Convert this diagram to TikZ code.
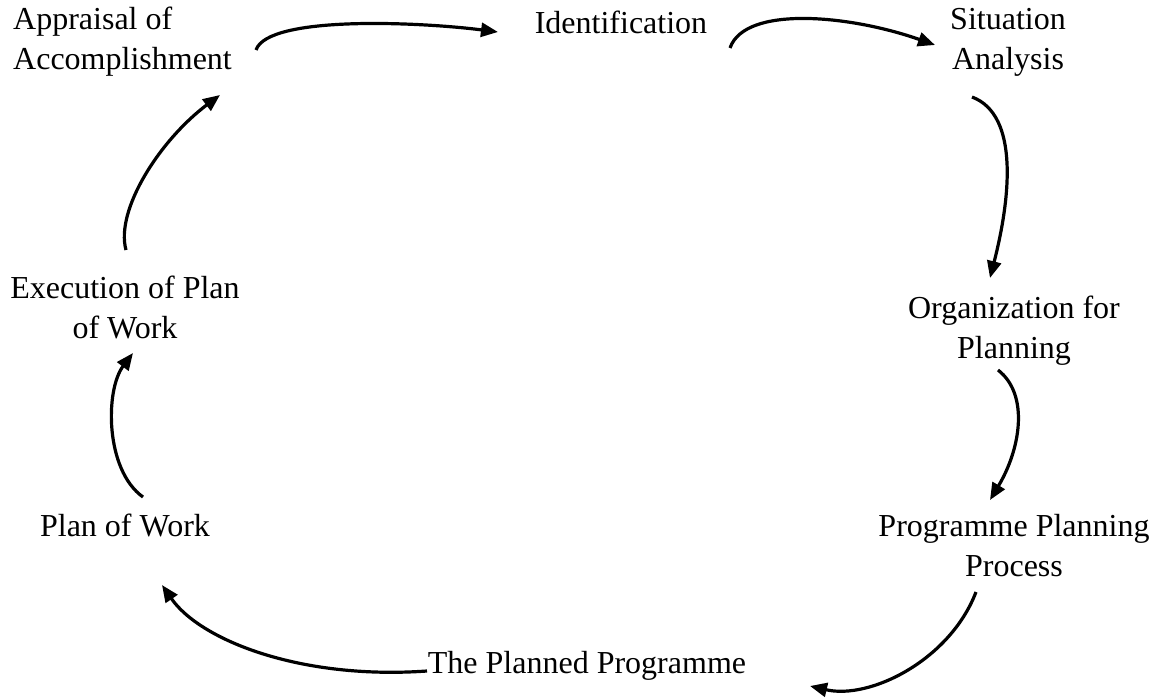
\documentclass[tikz,border=0pt]{standalone}
\usepackage{fontspec}
\setmainfont{Liberation Serif}
\usetikzlibrary{arrows.meta}
\begin{document}
\begin{tikzpicture}[x=1pt,y=-1pt,
  lbl/.style={align=center,inner sep=0pt,font=\fontsize{32}{40}\selectfont},
  flow/.style={line width=3.2pt,-{Triangle[length=17pt,width=14pt]}}]
\useasboundingbox (0,0) rectangle (1162,698);
\node[lbl,align=left,anchor=west] (app) at (13,42) {Appraisal of\\Accomplishment};
\node[lbl] (idn) at (621,22) {Identification};
\node[lbl] (sit) at (1008,42) {Situation\\Analysis};
\node[lbl] (org) at (1014,331) {Organization for\\Planning};
\node[lbl] (ppp) at (1014,546) {Programme Planning\\Process};
\node[lbl] (tpp) at (587,666) {The Planned Programme};
\node[lbl] (pow) at (125,525) {Plan of Work};
\node[lbl] (exe) at (125,307) {Execution of Plan\\of Work};
% connector end points near the labels
\coordinate (a1) at (256,50); \coordinate (b1) at (498,32);
\coordinate (a2) at (730,48); \coordinate (b2) at (935,45);
\coordinate (a3) at (972,97); \coordinate (b3) at (990,278);
\coordinate (a4) at (998,370); \coordinate (b4) at (990,500);
\coordinate (a5) at (976,592); \coordinate (b5) at (810,686);
\coordinate (a6) at (427,671); \coordinate (b6) at (162,585);
\coordinate (a7) at (143,497); \coordinate (b7) at (133,353);
\coordinate (a8) at (126,250); \coordinate (b8) at (220,95);
\draw[flow] (a1) .. controls (268,15) and (420,22) .. (b1);
\draw[flow] (a2) .. controls (745,5) and (850,15) .. (b2);
\draw[flow] (a3) .. controls (1020,115) and (1010,200) .. (b3);
\draw[flow] (a4) .. controls (1030,395) and (1020,450) .. (b4);
\draw[flow] (a5) .. controls (950,660) and (870,700) .. (b5);
\draw[flow] (a6) .. controls (300,680) and (200,640) .. (b6);
\draw[flow] (a7) .. controls (105,470) and (105,390) .. (b7);
\draw[flow] (a8) .. controls (115,210) and (160,140) .. (b8);
\end{tikzpicture}
\end{document}
